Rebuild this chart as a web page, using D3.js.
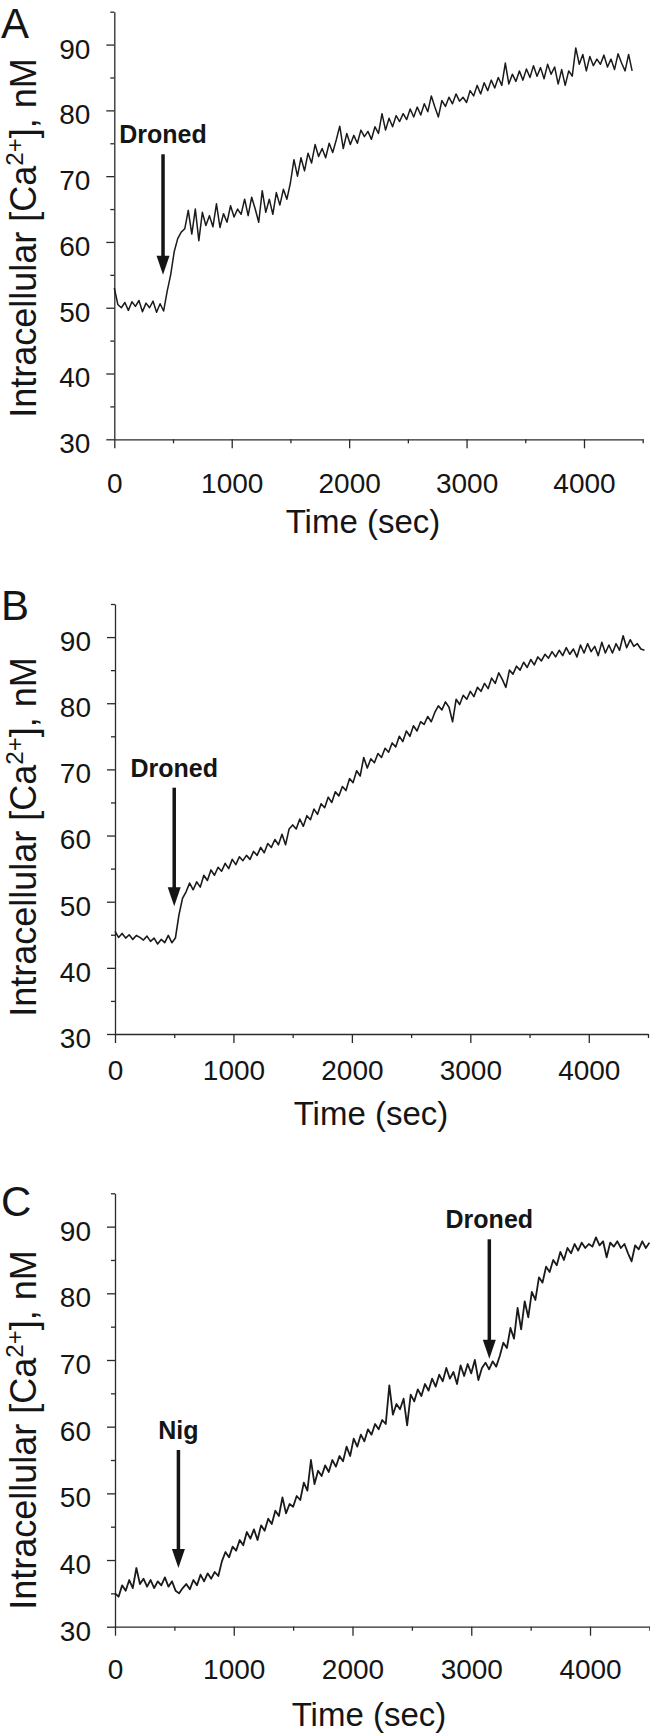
<!DOCTYPE html>
<html>
<head>
<meta charset="utf-8">
<script src="https://cdn.jsdelivr.net/npm/d3@7"></script>
<style>
body { margin: 0; background: #fff; }
svg { display: block; font-family: "Liberation Sans", Arial, sans-serif; }
</style>
</head>
<body>
<svg id="fig" width="650" height="1734"></svg>
<script>
// sampling interval of the traces (sec)
var sampleStep = 30;

var caA = [53.0,50.5,50.0,50.8,49.6,50.9,50.2,51.1,49.4,50.7,50.0,51.0,49.3,50.6,49.5,52.5,55.0,58.5,60.5,61.5,
	62.0,64.8,61.2,65.0,60.2,64.5,62.5,64.0,62.3,65.8,62.2,64.3,63.0,65.5,63.8,65.0,64.2,66.5,64.0,66.8,
	65.0,63.0,67.8,64.5,66.5,64.2,67.5,65.6,68.0,66.5,69.0,72.5,70.0,72.8,70.8,73.5,72.0,74.8,73.0,74.2,
	72.8,75.0,73.6,75.5,77.6,74.2,76.5,74.8,76.2,75.0,77.0,76.0,76.8,75.6,77.5,76.5,79.5,77.0,78.8,77.5,
	79.2,78.3,79.5,78.6,80.2,79.0,80.5,79.3,81.0,79.8,82.2,80.5,79.0,81.5,80.6,82.0,81.0,82.5,81.4,82.0,
	81.2,83.0,82.2,83.8,82.5,84.2,83.0,84.6,83.4,85.0,83.8,87.2,84.0,85.5,84.4,86.0,84.6,86.3,85.0,86.8,
	85.2,86.5,84.8,87.0,85.5,86.6,84.0,86.2,83.8,86.0,85.2,89.5,87.0,88.5,86.0,88.2,86.8,87.8,87.0,88.4,
	86.6,87.8,86.2,88.6,87.2,86.0,88.5,86.0];

var caB = [45.5,44.6,45.2,44.5,45.0,44.3,44.9,44.6,44.2,44.8,44.0,44.5,43.6,44.3,43.8,44.9,43.8,44.5,48.0,50.5,
	51.5,52.8,51.8,53.0,52.2,54.0,53.2,54.8,54.0,55.2,54.6,55.8,55.0,56.4,55.6,56.8,56.2,57.0,56.4,57.6,
	57.0,58.2,57.4,58.8,58.2,59.4,58.6,60.2,58.6,61.0,61.6,61.0,62.5,61.4,63.0,62.4,64.0,63.2,64.8,64.2,
	65.8,65.0,66.6,66.0,67.4,66.8,68.6,68.0,69.8,69.0,71.8,70.2,71.6,71.0,72.4,71.8,73.2,72.6,74.0,73.4,
	75.0,74.2,75.8,75.0,76.6,75.8,77.2,76.8,78.0,77.2,78.6,79.6,79.0,80.2,79.4,77.2,80.6,79.8,81.2,80.6,
	81.8,81.0,82.4,81.8,83.0,82.2,83.8,83.0,84.6,83.6,82.4,85.0,84.4,85.6,85.0,86.2,85.4,86.6,85.8,87.0,
	86.4,87.4,86.8,87.8,87.0,88.0,87.2,88.4,87.4,88.2,87.0,88.8,87.6,89.0,87.8,88.6,87.2,89.2,87.6,88.8,
	87.6,89.0,88.0,90.2,88.4,89.6,88.6,89.0,88.2,88.0];

var caC = [35.0,34.5,36.2,35.4,37.0,35.8,38.8,36.4,37.2,36.0,37.0,35.8,36.8,36.2,37.4,36.0,36.8,35.4,35.0,35.8,
	36.4,35.6,37.0,36.2,37.8,36.8,38.0,37.2,38.2,37.6,39.8,41.2,40.4,42.0,41.4,43.0,42.2,44.2,43.2,44.6,
	43.0,45.2,44.4,46.2,45.4,47.4,46.6,49.4,47.0,48.4,48.0,49.6,49.0,51.6,50.4,55.0,51.4,53.4,52.6,54.2,
	53.2,55.0,54.0,55.6,54.8,57.0,55.6,58.2,57.0,58.8,57.8,59.6,58.8,60.4,59.6,61.0,60.4,66.2,61.8,63.4,
	62.6,64.2,60.2,64.8,63.8,65.6,64.6,66.4,65.4,67.2,66.0,67.8,66.8,68.8,67.2,68.2,66.4,69.2,67.6,69.4,
	68.0,70.0,67.0,68.8,69.6,68.6,69.8,69.0,70.6,72.6,71.8,74.8,73.2,77.8,74.6,78.8,76.4,80.2,79.0,82.4,
	81.6,84.0,83.2,85.0,84.2,86.2,85.0,86.8,86.0,87.4,86.4,87.6,86.8,87.4,87.0,88.4,87.2,87.8,85.4,87.6,
	87.0,87.8,86.8,87.4,86.0,84.8,87.2,86.6,87.8,86.8,87.6];

var yMajor = [30, 40, 50, 60, 70, 80, 90];
var yMinor = [35, 45, 55, 65, 75, 85, 95];
var xMajor = [0, 1000, 2000, 3000, 4000];
var xMinor = [500, 1500, 2500, 3500, 4500];

var panelLetters = ["A", "B", "C"];
var markerNames = [["Droned"], ["Droned"], ["Nig", "Droned"]];
var markerTimes = [[415], [500], [534, 3152]];
var markerTips = [[55.0], [49.3], [38.8, 70.2]];

var yTitle = "Intracellular [Ca";
var xTitle = "Time (sec)";

// pixel layout of the three panels
var boxes = [
	{x0: 114.3, x1: 642.7, yBot: 439.3, yTop: 11.7, letterY: 38, tickY: 54, titleX: 363, titleY: 533, yTitleY: 238, markY: [143.3], lw: 1.5},
	{x0: 115, x1: 648, yBot: 1034, yTop: 604, letterY: 620, tickY: 46, titleX: 371, titleY: 1125, yTitleY: 837, markY: [776.7], lw: 1.6},
	{x0: 115, x1: 649.4, yBot: 1626.7, yTop: 1193.3, letterY: 1216, tickY: 52, titleX: 369, titleY: 1726, yTitleY: 1430, markY: [1439, 1228.3], lw: 1.8}
];
var series = [caA, caB, caC];

var svg = d3.select('#fig');
var ink = '#151515';

function renderPanel(i) {
	var b = boxes[i];
	var vals = series[i];
	var x = d3.scaleLinear().domain([0, 4500]).range([b.x0, b.x1]);
	var y = d3.scaleLinear().domain([30, 95]).range([b.yBot, b.yTop]);
	var g = svg.append('g').attr('id', 'panel' + panelLetters[i]);

	// minor ticks
	g.append('g')
		.attr('transform', 'translate(' + b.x0 + ',0)')
		.call(d3.axisLeft(y).tickValues(yMinor).tickSize(4).tickFormat(''))
		.call(function(a) { a.select('.domain').remove(); });
	g.append('g')
		.attr('transform', 'translate(0,' + b.yBot + ')')
		.call(d3.axisBottom(x).tickValues(xMinor).tickSize(4).tickFormat(''))
		.call(function(a) { a.select('.domain').remove(); });

	var yAx = g.append('g')
		.attr('transform', 'translate(' + b.x0 + ',0)')
		.call(d3.axisLeft(y).tickValues(yMajor).tickSize(8).tickSizeOuter(0).tickFormat(d3.format('d')));
	yAx.selectAll('text')
		.attr('x', -24)
		.attr('dy', '0.48em');

	var xAx = g.append('g')
		.attr('transform', 'translate(0,' + b.yBot + ')')
		.call(d3.axisBottom(x).tickValues(xMajor).tickSize(9).tickSizeOuter(0).tickFormat(d3.format('d')));
	xAx.selectAll('text')
		.attr('y', b.tickY)
		.attr('dy', 0);

	g.selectAll('.tick line, .domain')
		.style('stroke', '#2a2a2a')
		.style('stroke-width', '1.3px');
	g.selectAll('.tick text')
		.style('fill', ink)
		.style('font-size', '28px')
		.style('font-family', '"Liberation Sans", Arial, sans-serif');

	var line = d3.line()
		.x(function(d, k) { return x(k * sampleStep); })
		.y(function(d) { return y(d); });
	g.append('path')
		.attr('d', line(vals))
		.style('fill', 'none')
		.style('stroke', '#1a1a1a')
		.style('stroke-width', b.lw + 'px')
		.style('stroke-linejoin', 'round');

	// treatment arrows
	markerTimes[i].forEach(function(t, k) {
		var ax = x(t);
		var tipY = y(markerTips[i][k]);
		g.append('text')
			.attr('x', ax)
			.attr('y', b.markY[k])
			.attr('text-anchor', 'middle')
			.style('font-size', '25px')
			.style('font-weight', 'bold')
			.style('fill', ink)
			.text(markerNames[i][k]);
		g.append('line')
			.attr('x1', ax).attr('x2', ax)
			.attr('y1', b.markY[k] + 11)
			.attr('y2', tipY - 17)
			.style('stroke', ink)
			.style('stroke-width', '3.5px');
		g.append('path')
			.attr('d', 'M' + (ax - 6.5) + ',' + (tipY - 19) + 'L' + (ax + 6.5) + ',' + (tipY - 19) + 'L' + ax + ',' + tipY + 'Z')
			.style('fill', ink);
	});

	// titles
	var yt = g.append('text')
		.attr('transform', 'translate(36,' + b.yTitleY + ') rotate(-90)')
		.attr('text-anchor', 'middle')
		.style('font-size', '36px')
		.style('fill', ink);
	yt.append('tspan').text(yTitle);
	yt.append('tspan').attr('dy', -13).style('font-size', '24px').text('2+');
	yt.append('tspan').attr('dy', 13).text('], nM');

	g.append('text')
		.attr('x', 1)
		.attr('y', b.letterY)
		.style('font-size', '42px')
		.style('fill', ink)
		.text(panelLetters[i]);

	g.append('text')
		.attr('x', b.titleX)
		.attr('y', b.titleY)
		.attr('text-anchor', 'middle')
		.style('font-size', '33px')
		.style('fill', ink)
		.text(xTitle);
}

[0, 1, 2].forEach(renderPanel);
</script>
</body>
</html>
